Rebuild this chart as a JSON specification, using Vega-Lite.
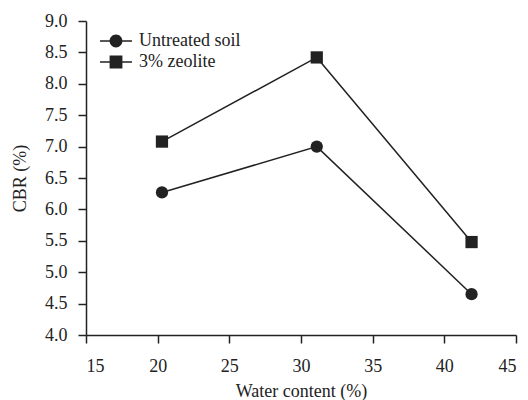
{
  "$schema": "https://vega.github.io/schema/vega-lite/v6.json",
  "width": 430,
  "height": 314,
  "autosize": {"type": "none"},
  "padding": {"left": 86, "top": 21, "right": 12, "bottom": 65},
  "background": "white",
  "config": {
    "view": {"stroke": null},
    "font": "'Liberation Serif', 'Times New Roman', serif",
    "axis": {
      "grid": false,
      "domainColor": "#222",
      "domainWidth": 1.5,
      "tickColor": "#222",
      "tickWidth": 1.5,
      "tickSize": 8,
      "labelFont": "'Liberation Serif', 'Times New Roman', serif",
      "labelFontSize": 18,
      "labelColor": "#222",
      "titleFont": "'Liberation Serif', 'Times New Roman', serif",
      "titleFontSize": 18,
      "titleFontWeight": "normal",
      "titleColor": "#222"
    },
    "legend": {
      "labelFont": "'Liberation Serif', 'Times New Roman', serif"
    }
  },
  "data": {
    "values": [
      {"series": "Untreated soil", "water": 20.3, "cbr": 6.27},
      {"series": "Untreated soil", "water": 31.1, "cbr": 7.0},
      {"series": "Untreated soil", "water": 41.9, "cbr": 4.65},
      {"series": "3% zeolite", "water": 20.3, "cbr": 7.08},
      {"series": "3% zeolite", "water": 31.1, "cbr": 8.42},
      {"series": "3% zeolite", "water": 41.9, "cbr": 5.48}
    ]
  },
  "encoding": {
    "x": {
      "field": "water",
      "type": "quantitative",
      "scale": {"domain": [15, 45], "nice": false, "zero": false},
      "axis": {"values": [15, 20, 25, 30, 35, 40, 45], "title": "Water content (%)", "labelPadding": 14, "titlePadding": 7}
    },
    "y": {
      "field": "cbr",
      "type": "quantitative",
      "scale": {"domain": [4, 9], "nice": false, "zero": false},
      "axis": {"values": [4, 4.5, 5, 5.5, 6, 6.5, 7, 7.5, 8, 8.5, 9], "format": ".1f", "title": "CBR (%)", "labelPadding": 11, "titlePadding": 15}
    }
  },
  "layer": [
    {
      "mark": {"type": "line", "color": "#222", "strokeWidth": 1.5},
      "encoding": {"detail": {"field": "series"}}
    },
    {
      "mark": {"type": "point", "filled": true, "color": "#222", "opacity": 1, "size": 150},
      "encoding": {
        "shape": {
          "field": "series",
          "scale": {"domain": ["Untreated soil", "3% zeolite"], "range": ["circle", "square"]},
          "legend": null
        }
      }
    },
    {
      "transform": [{"filter": "false"}],
      "mark": {"type": "point", "filled": true, "color": "#222", "opacity": 1},
      "encoding": {
        "shape": {
          "field": "series",
          "scale": {
            "domain": ["Untreated soil", "3% zeolite"],
            "range": [
              "M-2,-0.1H2V0.1H-2ZM0.8,0A0.8,0.8,0,1,1,-0.8,0A0.8,0.8,0,1,1,0.8,0Z",
              "M-2,-0.1H2V0.1H-2ZM-0.8,-0.8H0.8V0.8H-0.8Z"
            ]
          },
          "legend": {
            "title": null,
            "orient": "none",
            "legendX": 21,
            "legendY": 11,
            "symbolSize": 256,
            "symbolFillColor": "#222",
            "symbolStrokeWidth": 0,
            "symbolOpacity": 1,
            "labelFontSize": 18,
            "labelColor": "#222",
            "labelOffset": 14,
            "rowPadding": 3
          }
        }
      }
    }
  ],
  "resolve": {"scale": {"shape": "independent"}}
}
